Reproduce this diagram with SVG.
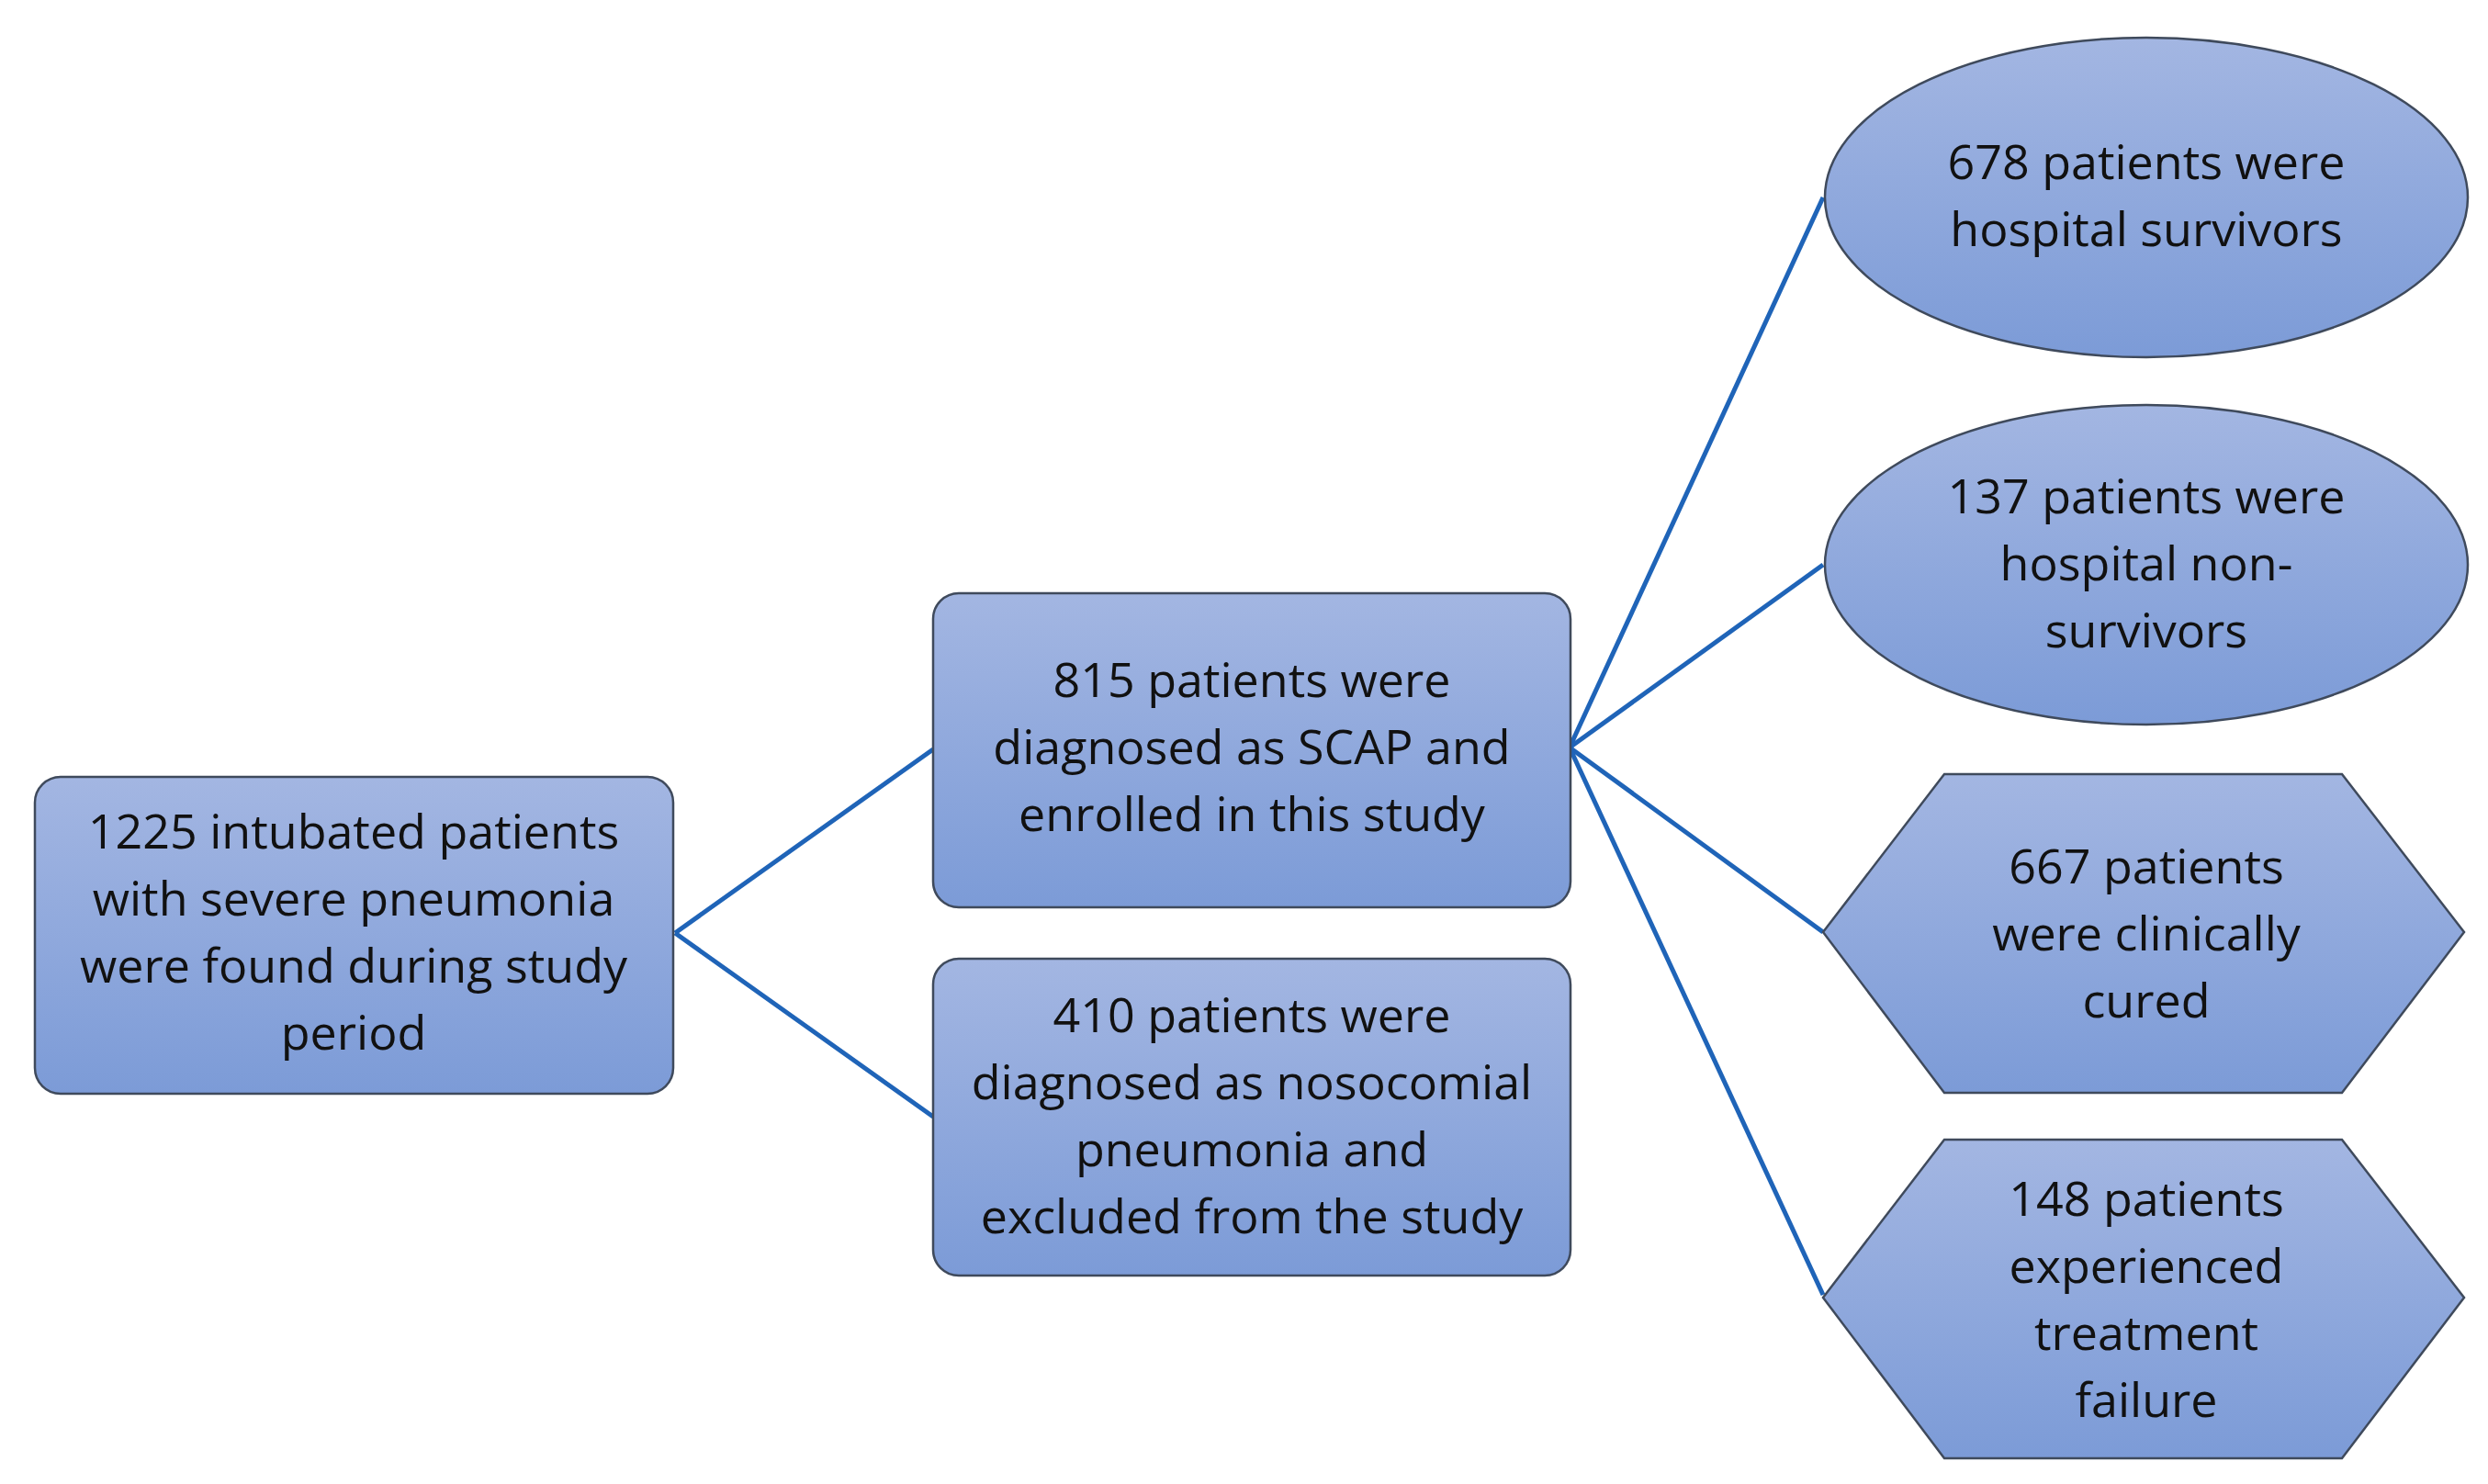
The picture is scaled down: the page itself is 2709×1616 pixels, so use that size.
<svg xmlns="http://www.w3.org/2000/svg" width="2709" height="1616" viewBox="0 0 2709 1616">
<defs>
<linearGradient id="g" x1="0" y1="0" x2="0" y2="1"><stop offset="0" stop-color="#a3b6e2"/><stop offset="1" stop-color="#7c9bd7"/></linearGradient>
<style>
.n{fill:url(#g);stroke:#3f4a5c;stroke-width:2.5}
.t{font-family:"Open Sans","Liberation Sans",sans-serif;font-size:52px;fill:#111;text-anchor:middle}
.c{stroke:#1f64b8;stroke-width:5;fill:none}
</style>
</defs>
<rect width="2709" height="1616" fill="#fff"/>
<g id="connectors">
<line class="c" x1="735" y1="1016" x2="1016" y2="816"/>
<line class="c" x1="735" y1="1016" x2="1016" y2="1216"/>
<line class="c" x1="1709" y1="814" x2="1985" y2="215"/>
<line class="c" x1="1709" y1="814" x2="1985" y2="615"/>
<line class="c" x1="1709" y1="814" x2="1985" y2="1015"/>
<line class="c" x1="1709" y1="814" x2="1985" y2="1410"/>
</g>
<g id="n1"><rect class="n" x="38" y="846" width="695" height="345" rx="28"/>
<text class="t" x="385" y="924">1225 intubated patients</text><text class="t" x="385" y="997">with severe pneumonia</text><text class="t" x="385" y="1070">were found during study</text><text class="t" x="385" y="1143">period</text></g>
<g id="n2"><rect class="n" x="1016" y="646" width="694" height="342" rx="28"/>
<text class="t" x="1363" y="759">815 patients were</text><text class="t" x="1363" y="832">diagnosed as SCAP and</text><text class="t" x="1363" y="905">enrolled in this study</text></g>
<g id="n3"><rect class="n" x="1016" y="1044" width="694" height="345" rx="28"/>
<text class="t" x="1363" y="1124">410 patients were</text><text class="t" x="1363" y="1197">diagnosed as nosocomial</text><text class="t" x="1363" y="1270">pneumonia and</text><text class="t" x="1363" y="1343">excluded from the study</text></g>
<g id="e1"><ellipse class="n" cx="2337" cy="215" rx="350" ry="174"/>
<text class="t" x="2337" y="195">678 patients were</text><text class="t" x="2337" y="268">hospital survivors</text></g>
<g id="e2"><ellipse class="n" cx="2337" cy="615" rx="350" ry="174"/>
<text class="t" x="2337" y="559">137 patients were</text><text class="t" x="2337" y="632">hospital non-</text><text class="t" x="2337" y="705">survivors</text></g>
<g id="h1"><polygon class="n" points="1985,1015 2117,843 2550,843 2683,1015 2550,1190 2117,1190"/>
<text class="t" x="2337" y="962">667 patients</text><text class="t" x="2337" y="1035">were clinically</text><text class="t" x="2337" y="1108">cured</text></g>
<g id="h2"><polygon class="n" points="1985,1413 2117,1241 2550,1241 2683,1413 2550,1588 2117,1588"/>
<text class="t" x="2337" y="1324">148 patients</text><text class="t" x="2337" y="1397">experienced</text><text class="t" x="2337" y="1470">treatment</text><text class="t" x="2337" y="1543">failure</text></g>
</svg>
